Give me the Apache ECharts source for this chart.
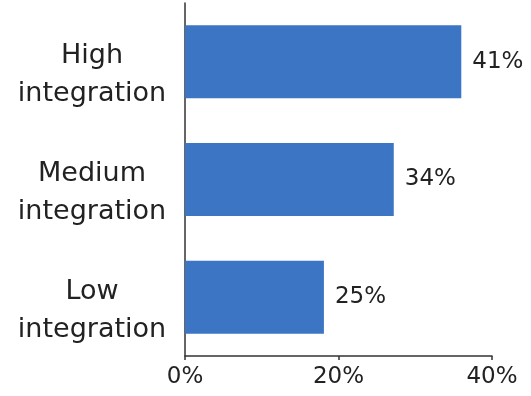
<!DOCTYPE html>
<html>
<head>
<meta charset="utf-8">
<script src="https://cdn.jsdelivr.net/npm/echarts@6/dist/echarts.min.js"></script>
<style>
  html, body { margin: 0; padding: 0; background: #fff; }
  #bar1 { width: 531px; height: 396px; }
</style>
</head>
<body>
<div id="bar1"></div>
<script>
var categories = ['High\nintegration', 'Medium\nintegration', 'Low\nintegration'];
// bar lengths as drawn
var barValues = [36.0, 27.2, 18.1];
// value labels as printed next to each bar
var valueLabels = ['41%', '34%', '25%'];
var xTicks = [0, 20, 40];

var bar1Chart = echarts.init(document.getElementById('bar1'));
var option = {
  backgroundColor: '#fff',
  animation: false,
  textStyle: { fontFamily: '"DejaVu Sans", sans-serif' },
  grid: { left: 185, right: 39, top: 3, bottom: 40 },
  xAxis: {
    type: 'value',
    min: xTicks[0],
    max: xTicks[xTicks.length - 1],
    interval: xTicks[1] - xTicks[0],
    splitLine: { show: false },
    axisLine: { show: true, lineStyle: { color: '#333', width: 1.5 } },
    axisTick: { show: true, length: 4, lineStyle: { color: '#333', width: 1.5 } },
    axisLabel: {
      color: '#222',
      fontSize: 23,
      margin: 10,
      formatter: '{value}%'
    }
  },
  yAxis: {
    type: 'category',
    inverse: true,
    data: categories,
    axisLine: { show: true, lineStyle: { color: '#333', width: 1.5 } },
    axisTick: { show: false },
    axisLabel: {
      color: '#222',
      fontSize: 27,
      lineHeight: 38,
      align: 'center',
      margin: 93,
      // empty spacer line pushes the two text lines down a bit
      formatter: function (v) { return '{pad|}\n' + v; },
      rich: {
        pad: { height: 27, lineHeight: 27, fontSize: 27 }
      }
    }
  },
  series: [
    {
      type: 'bar',
      barWidth: 73,
      itemStyle: { color: '#3c75c4' },
      label: {
        show: true,
        position: 'right',
        distance: 11,
        color: '#222',
        fontSize: 23,
        formatter: function (p) { return valueLabels[p.dataIndex]; }
      },
      data: barValues
    }
  ]
};
bar1Chart.setOption(option);
</script>
</body>
</html>
